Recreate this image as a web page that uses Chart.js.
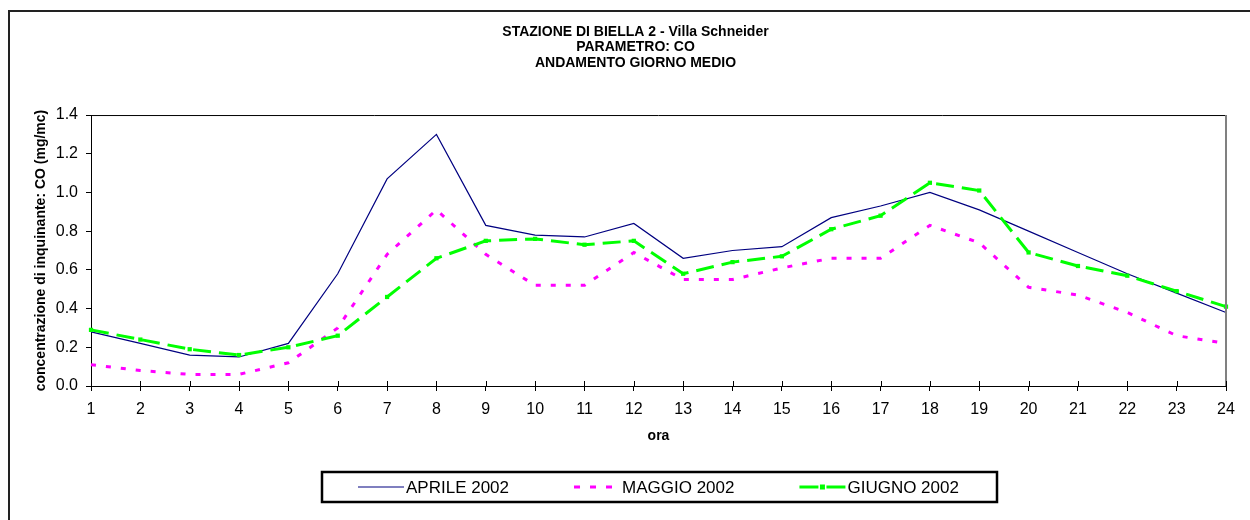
<!DOCTYPE html>
<html>
<head>
<meta charset="utf-8">
<script src="https://cdn.jsdelivr.net/npm/chart.js@4.4.0/dist/chart.umd.min.js"></script>
<style>
  html, body { margin: 0; padding: 0; background: #fff; overflow: hidden; }
  #wrap { width: 1250px; height: 520px; }
</style>
</head>
<body>
<div id="wrap"><canvas id="giornoMedio" width="1250" height="520"></canvas></div>
<script>
// ore del giorno
const ore = ["1","2","3","4","5","6","7","8","9","10","11","12","13","14","15","16","17","18","19","20","21","22","23","24"];

// concentrazioni CO (mg/mc)
const aprile = [0.28, 0.22, 0.16, 0.15, 0.22, 0.58, 1.07, 1.30, 0.83, 0.78, 0.77, 0.84, 0.66, 0.70, 0.72, 0.87, 0.93, 1.00, 0.91, 0.80, 0.69, 0.58, 0.48, 0.38];
const maggio = [0.11, 0.08, 0.06, 0.06, 0.12, 0.30, 0.68, 0.91, 0.68, 0.52, 0.52, 0.69, 0.55, 0.55, 0.61, 0.66, 0.66, 0.83, 0.74, 0.51, 0.47, 0.38, 0.26, 0.22];
const giugno = [0.29, 0.24, 0.19, 0.16, 0.20, 0.26, 0.46, 0.66, 0.75, 0.76, 0.73, 0.75, 0.58, 0.64, 0.67, 0.81, 0.88, 1.05, 1.01, 0.69, 0.62, 0.57, 0.49, 0.41];

const yTicks = [0, 0.2, 0.4, 0.6, 0.8, 1.0, 1.2, 1.4];

const titolo = [
  "STAZIONE DI BIELLA 2 - Villa Schneider",
  "PARAMETRO: CO",
  "ANDAMENTO GIORNO MEDIO"
];

const FONT = "'Liberation Sans', Arial, sans-serif";
Chart.defaults.font.family = FONT;
Chart.defaults.color = "#000";

/* ==============================
   FRAME, PLOT BORDER, INNER TICKS
============================== */
const framePlugin = {
  id: "frame",
  beforeDraw(chart) {
    const ctx = chart.ctx;
    ctx.save();
    ctx.fillStyle = "#fff";
    ctx.fillRect(0, 0, chart.width, chart.height);
    ctx.strokeStyle = "#222";
    ctx.lineWidth = 2;
    ctx.strokeRect(9, 11, chart.width + 40, chart.height + 40);
    ctx.restore();
  },
  afterDraw(chart) {
    const { ctx, chartArea: a } = chart;
    const x = chart.scales.x;
    ctx.save();
    // top border
    ctx.strokeStyle = "#000";
    ctx.lineWidth = 1;
    ctx.beginPath();
    ctx.moveTo(a.left, a.top + 0.5);
    ctx.lineTo(a.right, a.top + 0.5);
    ctx.stroke();
    // right border
    ctx.strokeStyle = "#808080";
    ctx.lineWidth = 2;
    ctx.beginPath();
    ctx.moveTo(a.right, a.top);
    ctx.lineTo(a.right, a.bottom);
    ctx.stroke();
    // x ticks crossing the axis
    ctx.strokeStyle = "#000";
    ctx.lineWidth = 1;
    ctx.beginPath();
    x.ticks.forEach((t, i) => {
      const px = Math.round(x.getPixelForTick(i)) + 0.5;
      ctx.moveTo(px, a.bottom - 5);
      ctx.lineTo(px, a.bottom);
    });
    ctx.stroke();
    ctx.restore();
  }
};

/* ==============================
   LEGEND (boxed, below axis title)
============================== */
const legendBox = { left: 322, top: 472, right: 997, bottom: 502 };

const boxedLegend = {
  id: "boxedLegend",
  afterDraw(chart) {
    const ctx = chart.ctx;
    const b = legendBox;
    const cy = (b.top + b.bottom) / 2;
    ctx.save();
    ctx.strokeStyle = "#000";
    ctx.lineWidth = 2.5;
    ctx.strokeRect(b.left, b.top, b.right - b.left, b.bottom - b.top);

    ctx.font = "17px " + FONT;
    ctx.textBaseline = "middle";

    let cursor = b.left + 36;
    chart.data.datasets.forEach(ds => {
      const w = 46;
      ctx.strokeStyle = ds.borderColor;
      ctx.lineWidth = ds.borderWidth;
      ctx.setLineDash(ds.legendDash || ds.borderDash || []);
      ctx.beginPath();
      ctx.moveTo(cursor, cy);
      ctx.lineTo(cursor + w, cy);
      ctx.stroke();
      ctx.setLineDash([]);
      if (ds.pointRadius > 0) {
        ctx.fillStyle = ds.pointBackgroundColor;
        ctx.fillRect(cursor + w / 2 - 2.5, cy - 2.5, 5, 5);
      }
      const tx = cursor + 48;
      ctx.fillStyle = "#000";
      ctx.fillText(ds.label, tx, cy + 1);
      cursor = tx + ctx.measureText(ds.label).width + 65;
    });
    ctx.restore();
  }
};

new Chart(document.getElementById("giornoMedio"), {
  type: "line",
  data: {
    labels: ore,
    datasets: [
      {
        label: "APRILE 2002",
        data: aprile,
        borderColor: "#000080",
        borderWidth: 1.2,
        pointRadius: 0,
        order: 2
      },
      {
        label: "MAGGIO 2002",
        data: maggio,
        borderColor: "#FF00FF",
        borderWidth: 3,
        borderDash: [5, 10],
        legendDash: [6, 10],
        pointRadius: 0,
        order: 1
      },
      {
        label: "GIUGNO 2002",
        data: giugno,
        borderColor: "#00FF00",
        borderWidth: 3,
        borderDash: [18, 8],
        legendDash: [19, 8],
        pointStyle: "rect",
        pointRadius: 3,
        pointBackgroundColor: "#00FF00",
        pointBorderColor: "#00FF00",
        pointBorderWidth: 0,
        order: 0
      }
    ]
  },
  options: {
    responsive: false,
    animation: false,
    devicePixelRatio: 1,
    layout: { padding: { left: 45, top: 24, right: 24, bottom: 74 } },
    elements: { line: { tension: 0 } },
    plugins: {
      legend: { display: false },
      tooltip: { enabled: false },
      title: {
        display: true,
        text: titolo,
        color: "#000",
        font: { size: 14, weight: "bold", lineHeight: 1.12 },
        padding: { top: 0, bottom: 44 }
      }
    },
    scales: {
      x: {
        offset: false,
        grid: { drawOnChartArea: false, tickLength: 5, color: "#000", lineWidth: 1 },
        border: { color: "#000", width: 1 },
        ticks: { color: "#000", font: { size: 16 }, padding: 9, maxRotation: 0, autoSkip: false },
        title: {
          display: true,
          text: "ora",
          color: "#000",
          font: { size: 14, weight: "bold" },
          padding: { top: 0, bottom: 1 }
        },
        afterFit(s) { s.height = 60; }
      },
      y: {
        min: 0,
        max: 1.4,
        afterBuildTicks(s) { s.ticks = yTicks.map(v => ({ value: v })); },
        grid: { drawOnChartArea: false, tickLength: 5, color: "#000", lineWidth: 1 },
        border: { color: "#000", width: 1 },
        ticks: { color: "#000", font: { size: 16 }, padding: 8, callback: v => Number(v).toFixed(1) },
        title: {
          display: true,
          text: "concentrazione di inquinante: CO (mg/mc)",
          color: "#000",
          font: { size: 14, weight: "bold" },
          padding: { top: -12, bottom: 0 }
        },
        afterFit(s) { s.width = 46; }
      }
    }
  },
  plugins: [framePlugin, boxedLegend]
});
</script>
</body>
</html>
